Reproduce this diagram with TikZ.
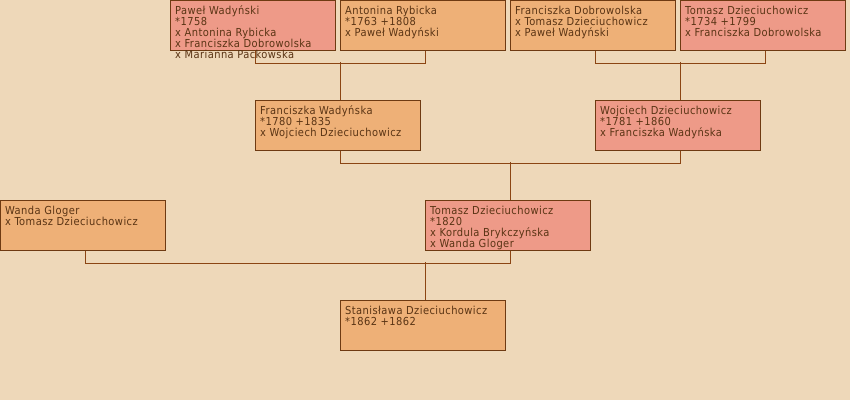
\documentclass[tikz,border=0pt]{standalone}
\usepackage{fontspec}
\setmainfont[LetterSpace=4]{DejaVu Sans Condensed}
\definecolor{bg}{HTML}{EED8B9}
\definecolor{pinkbox}{HTML}{EE9A88}
\definecolor{orbox}{HTML}{EEB077}
\definecolor{edge}{HTML}{6E3A12}
\definecolor{conn}{HTML}{8B4513}
\definecolor{ink}{HTML}{5A3414}
\tikzset{
  person/.style={draw=edge, line width=1pt, minimum width=165pt, minimum height=50pt, inner sep=0pt, anchor=north west},
  male/.style={person, fill=pinkbox},
  female/.style={person, fill=orbox},
  txt/.style={anchor=base west, inner sep=0pt, text=ink, font=\fontsize{11}{11}\selectfont},
  link/.style={draw=conn, line width=1pt}
}
\newcommand{\lines}[1]{\parbox[t]{180pt}{\raggedright #1}}
\begin{document}
\begin{tikzpicture}[x=1pt,y=-1pt]
\fill[bg] (0,0) rectangle (850,400);
\useasboundingbox (0,0) rectangle (850,400);
\node[male] (P) at (170,0) {};
\node[female] (A) at (340,0) {};
\node[female] (FD) at (510,0) {};
\node[male] (T1) at (680,0) {};
\node[female] (FW) at (255,100) {};
\node[male] (W) at (595,100) {};
\node[female] (WG) at (0,200) {};
\node[male] (T2) at (425,200) {};
\node[female] (S) at (340,300) {};
% connectors
\draw[link] ([xshift=2.5]P.south) -- ++(0,12) -| ([xshift=2.5]A.south);
\draw[link] ([xshift=2.5]FW.north) -- ++(0,-38);
\draw[link] ([xshift=2.5]FD.south) -- ++(0,12) -| ([xshift=2.5]T1.south);
\draw[link] ([xshift=2.5]W.north) -- ++(0,-38);
\draw[link] ([xshift=2.5]FW.south) -- ++(0,12) -| ([xshift=2.5]W.south);
\draw[link] ([xshift=2.5]T2.north) -- ++(0,-38);
\draw[link] ([xshift=2.5]WG.south) -- ++(0,12) -| ([xshift=2.5]T2.south);
\draw[link] ([xshift=2.5]S.north) -- ++(0,-38);
% texts
\node[txt] (tP) at ([shift={(5,14)}]P.north west) {\lines{Paweł Wadyński\\{}*1758\\x Antonina Rybicka\\x Franciszka Dobrowolska\\x Marianna Packowska}};
\node[txt] (tA) at ([shift={(5,14)}]A.north west) {\lines{Antonina Rybicka\\{}*1763 +1808\\x Paweł Wadyński}};
\node[txt] (tFD) at ([shift={(5,14)}]FD.north west) {\lines{Franciszka Dobrowolska\\x Tomasz Dzieciuchowicz\\x Paweł Wadyński}};
\node[txt] (tT1) at ([shift={(5,14)}]T1.north west) {\lines{Tomasz Dzieciuchowicz\\{}*1734 +1799\\x Franciszka Dobrowolska}};
\node[txt] (tFW) at ([shift={(5,14)}]FW.north west) {\lines{Franciszka Wadyńska\\{}*1780 +1835\\x Wojciech Dzieciuchowicz}};
\node[txt] (tW) at ([shift={(5,14)}]W.north west) {\lines{Wojciech Dzieciuchowicz\\{}*1781 +1860\\x Franciszka Wadyńska}};
\node[txt] (tWG) at ([shift={(5,14)}]WG.north west) {\lines{Wanda Gloger\\x Tomasz Dzieciuchowicz}};
\node[txt] (tT2) at ([shift={(5,14)}]T2.north west) {\lines{Tomasz Dzieciuchowicz\\{}*1820\\x Kordula Brykczyńska\\x Wanda Gloger}};
\node[txt] (tS) at ([shift={(5,14)}]S.north west) {\lines{Stanisława Dzieciuchowicz\\{}*1862 +1862}};
\end{tikzpicture}
\end{document}
